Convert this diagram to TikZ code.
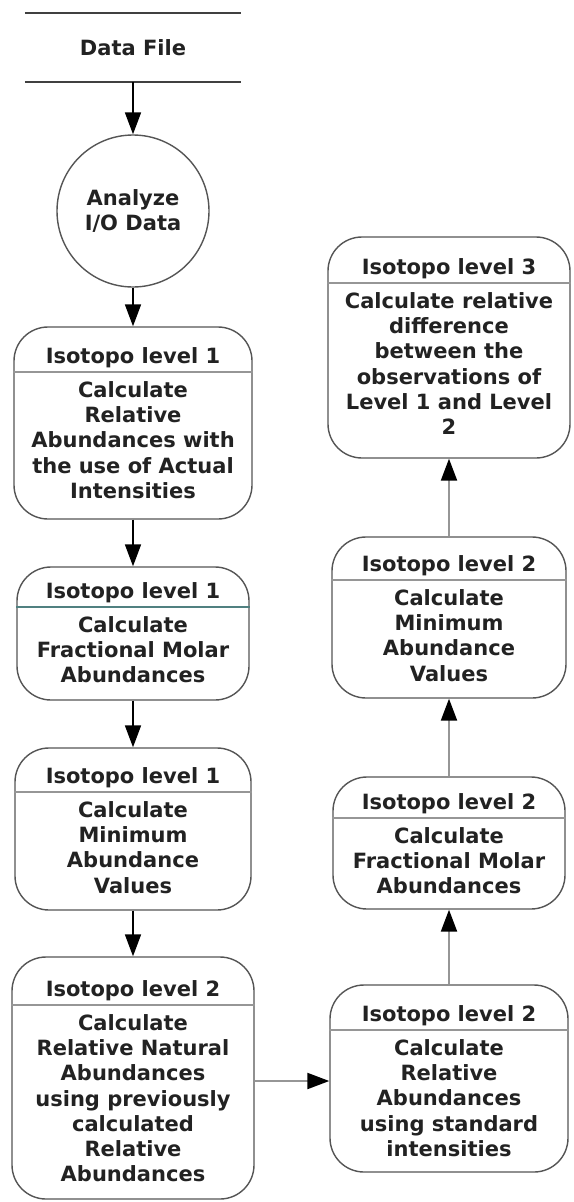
\documentclass[tikz,border=0pt]{standalone}
\usepackage{fontspec}
\setmainfont{DejaVu Sans}
\usetikzlibrary{arrows.meta,fit}

\definecolor{inkc}{RGB}{34,34,34}
\definecolor{framec}{RGB}{85,85,85}
\definecolor{rulec}{RGB}{150,150,150}
\definecolor{tealrule}{RGB}{80,128,128}
\definecolor{linkc}{RGB}{150,150,150}

\tikzset{
  txt/.style={font=\bfseries\fontsize{21}{25.3}\selectfont, text=inkc, align=center, inner sep=0pt},
  pbox/.style={draw=framec, line width=1.4pt, rounded corners=34pt, inner sep=0pt},
  hline/.style={draw=rulec, line width=1.4pt},
  storeline/.style={draw=black!75, line width=2pt},
  arr/.style={draw=black, line width=1.8pt, -{Triangle[length=22pt,width=16pt]}},
  garr/.style={draw=linkc, line width=2.2pt, -{Triangle[length=22pt,width=16pt,color=black]}},
}

% name, x1, y1, x2, y2, y of header rule, header, body, rule colour
\newcommand\isobox[9]{%
  \node[pbox, fit={(#2,#3) (#4,#5)}] (#1) {};
  \draw[hline, draw=#9] (#1.west |- 0,#6) -- (#1.east |- 0,#6);
  \node[txt, anchor=base] (#1-h) at ({(#2+#4)/2},{#6-9}) {#7};
  \node[txt, anchor=north] (#1-t) at ({(#2+#4)/2},{#6+9}) {#8};
}

\begin{document}
\begin{tikzpicture}[x=1pt,y=-1pt]
  \useasboundingbox[fill=white] (0,0) rectangle (573,1202);

  % data store
  \node[txt, minimum width=216pt, minimum height=69pt] (df) at (133,47.5) {Data File};
  \draw[storeline] (df.north west) -- (df.north east) (df.south west) -- (df.south east);

  % process
  \node[txt, draw=framec, line width=1.4pt, circle, minimum size=152pt] (io) at (133,211) {Analyze\\I/O Data};

  % left column
  \isobox{b1}{14}{327}{252}{519}{372}{Isotopo level 1}{Calculate\\Relative\\Abundances with\\the use of Actual\\Intensities}{rulec}
  \isobox{b2}{17}{567}{249}{700}{607}{Isotopo level 1}{Calculate\\Fractional Molar\\Abundances}{tealrule}
  \isobox{b3}{15}{748}{251}{910}{792}{Isotopo level 1}{Calculate\\Minimum\\Abundance\\Values}{rulec}
  \isobox{b4}{12}{957}{254}{1199}{1005}{Isotopo level 2}{Calculate\\Relative Natural\\Abundances\\using previously\\calculated\\Relative\\Abundances}{rulec}

  % right column
  \isobox{b5}{330}{985}{568}{1172}{1030}{Isotopo level 2}{Calculate\\Relative\\Abundances\\using standard\\intensities}{rulec}
  \isobox{b8}{333}{777}{565}{909}{818}{Isotopo level 2}{Calculate\\Fractional Molar\\Abundances}{rulec}
  \isobox{b7}{332}{537}{566}{698}{580}{Isotopo level 2}{Calculate\\Minimum\\Abundance\\Values}{rulec}
  \isobox{b6}{328}{237}{570}{458}{283}{Isotopo level 3}{Calculate relative\\difference\\between the\\observations of\\Level 1 and Level\\2}{rulec}

  % flow
  \draw[arr] (df.south) -- (io.north);
  \draw[arr] (io.south) -- (b1.north);
  \draw[arr] (b1.south) -- (b2.north);
  \draw[arr] (b2.south) -- (b3.north);
  \draw[arr] (b3.south) -- (b4.north);
  \coordinate (hop) at (0,1081);
  \draw[garr] (b4.east |- hop) -- (b5.west |- hop);
  \draw[garr] (b5.north) -- (b8.south);
  \draw[garr] (b8.north) -- (b7.south);
  \draw[garr] (b7.north) -- (b6.south);
\end{tikzpicture}
\end{document}
